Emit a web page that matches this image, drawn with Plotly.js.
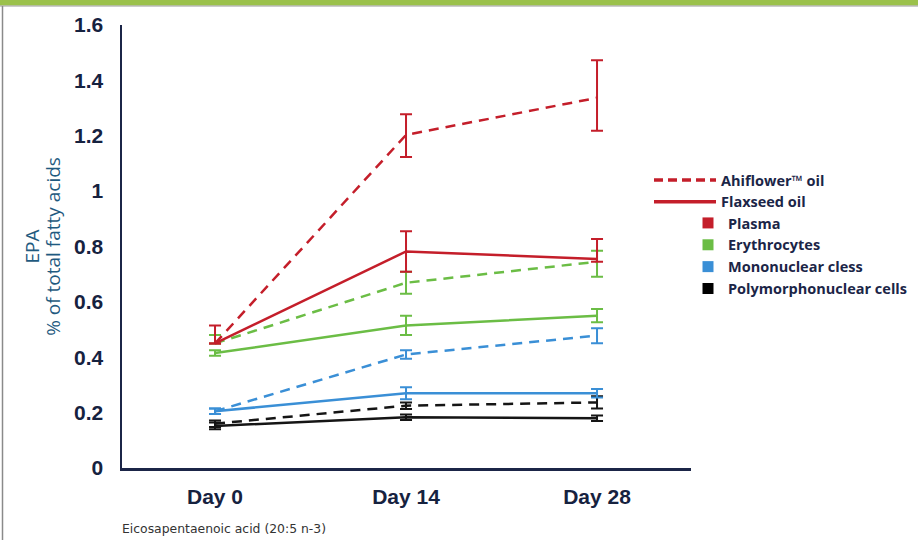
<!DOCTYPE html>
<html>
<head>
<meta charset="utf-8">
<script src="https://cdn.plot.ly/plotly-3.0.1.min.js"></script>
<style>html,body{margin:0;padding:0;background:#fff;}#chart{width:918px;height:540px;}</style>
</head>
<body>
<div id="chart"></div>
<script>
// ---- data ----
var days = ["Day 0", "Day 14", "Day 28"];
var yTickVals = [0, 0.2, 0.4, 0.6, 0.8, 1, 1.2, 1.4, 1.6];
var yTickText = ["0", "0.2", "0.4", "0.6", "0.8", "1", "1.2", "1.4", "1.6"];

var plasmaAhi = [0.45, 1.203, 1.337];
var plasmaAhiErrPlus = [0.065, 0.075, 0.136];
var plasmaAhiErrMinus = [0, 0.08, 0.119];
var plasmaFlax = [0.45, 0.782, 0.755];
var plasmaFlaxErrPlus = [0, 0.073, 0.072];
var plasmaFlaxErrMinus = [0, 0.073, 0.01];

var eryAhi = [0.45, 0.669, 0.745];
var eryAhiErrPlus = [0.03, 0.04, 0.04];
var eryAhiErrMinus = [0, 0.04, 0.054];
var eryFlax = [0.415, 0.515, 0.55];
var eryFlaxErrPlus = [0.01, 0.035, 0.024];
var eryFlaxErrMinus = [0.01, 0.035, 0.024];

var monoAhi = [0.205, 0.41, 0.478];
var monoAhiErr = [0.01, 0.015, 0.027];
var monoFlax = [0.205, 0.27, 0.27];
var monoFlaxErr = [0.01, 0.022, 0.015];

var polyAhi = [0.16, 0.225, 0.237];
var polyAhiErr = [0.012, 0.012, 0.022];
var polyFlax = [0.152, 0.183, 0.18];
var polyFlaxErr = [0.012, 0.01, 0.01];

var legendLines = ["Ahiflower\u2122 oil", "Flaxseed oil"];
var legendCells = ["Plasma", "Erythrocytes", "Mononuclear cless", "Polymorphonuclear cells"];

// ---- styles ----
var RED = "#c41e2a", GREEN = "#6bbd45", BLUE = "#3a8fd6", BLACK = "#151515";
var W = 918, H = 540, ML = 122, MR = 227, MT = 25, MB = 72;
var PW = W - ML - MR, PH = H - MT - MB;
function px(x) { return (x - ML) / PW; }
function py(y) { return (H - MB - y) / PH; }
var DASH = "10px,7px";

function series(y, color, dash, plus, minus) {
  return {
    type: "scatter", mode: "lines", x: days, y: y,
    line: {color: color, width: 2.5, dash: dash},
    error_y: {type: "data", symmetric: false, array: plus, arrayminus: minus,
              color: color, thickness: 2, width: 6},
    showlegend: false, hoverinfo: "x+y"
  };
}

var traces = [
  series(polyFlax, BLACK, "solid", polyFlaxErr, polyFlaxErr),
  series(polyAhi, BLACK, DASH, polyAhiErr, polyAhiErr),
  series(monoFlax, BLUE, "solid", monoFlaxErr, monoFlaxErr),
  series(monoAhi, BLUE, DASH, monoAhiErr, monoAhiErr),
  series(eryFlax, GREEN, "solid", eryFlaxErrPlus, eryFlaxErrMinus),
  series(eryAhi, GREEN, DASH, eryAhiErrPlus, eryAhiErrMinus),
  series(plasmaFlax, RED, "solid", plasmaFlaxErrPlus, plasmaFlaxErrMinus),
  series(plasmaAhi, RED, DASH, plasmaAhiErrPlus, plasmaAhiErrMinus)
];

// legend-only entries
var lineDashes = ["9px,5px", "solid"];
legendLines.forEach(function (name, i) {
  traces.push({type: "scatter", mode: "lines", x: [null], y: [null], name: name,
    line: {color: RED, width: 3.5, dash: lineDashes[i]}, legend: "legend", showlegend: true, hoverinfo: "skip"});
});
var cellColors = [RED, GREEN, BLUE, "#000000"];
legendCells.forEach(function (name, i) {
  traces.push({type: "scatter", mode: "markers", x: [null], y: [null], name: name,
    marker: {color: cellColors[i], symbol: "square", size: 11}, legend: "legend2", showlegend: true, hoverinfo: "skip"});
});

var legendFont = {family: "Open Sans, sans-serif", size: 14.5, color: "#1b2547", weight: "bold"};
var tickFont = {family: "Liberation Sans, Arial, sans-serif", size: 21, color: "#16223f", weight: "bold"};

var layout = {
  width: W, height: H,
  margin: {l: ML, r: MR, t: MT, b: MB, pad: 0, autoexpand: false},
  paper_bgcolor: "#ffffff", plot_bgcolor: "#ffffff",
  showlegend: true,
  xaxis: {
    type: "category", range: [-0.487, 2.492], showgrid: false, zeroline: false,
    showline: true, linecolor: "#1b2547", linewidth: 2.5, ticks: "",
    tickfont: tickFont, ticklabelstandoff: 8, fixedrange: true, automargin: false
  },
  yaxis: {
    range: [0, 1.6], showgrid: false, zeroline: false,
    showline: true, linecolor: "#1b2547", linewidth: 2.5, ticks: "",
    tickmode: "array", tickvals: yTickVals, ticktext: yTickText,
    tickfont: tickFont, ticklabelstandoff: 12, automargin: false,
    title: {text: "<span style=\"font-size:19px\">EPA</span><br><span style=\"font-size:19px\">% of total fatty acids</span>",
            standoff: 10,
            font: {family: "Open Sans, sans-serif", size: 16, color: "#1f5a80"}},
    fixedrange: true
  },
  legend: {
    xref: "paper", yref: "paper", x: px(649), y: py(164),
    xanchor: "left", yanchor: "top", bgcolor: "rgba(0,0,0,0)",
    itemwidth: 62, tracegroupgap: 0, font: legendFont, itemclick: false, itemdoubleclick: false
  },
  legend2: {
    xref: "paper", yref: "paper", x: px(688), y: py(207),
    xanchor: "left", yanchor: "top", bgcolor: "rgba(0,0,0,0)",
    itemwidth: 30, font: legendFont, itemclick: false, itemdoubleclick: false
  },
  annotations: [{
    xref: "paper", yref: "paper", x: px(120), y: py(528), xanchor: "left", yanchor: "middle",
    text: "Eicosapentaenoic acid (20:5 n-3)", showarrow: false,
    font: {family: "DejaVu Sans, sans-serif", size: 12.4, color: "#333333"}
  }],
  shapes: [
    {type: "rect", xref: "paper", yref: "paper", x0: px(0), x1: px(W), y0: py(0), y1: py(5.5),
     fillcolor: "#9bc14b", line: {width: 0}, layer: "above"},
    {type: "line", xref: "paper", yref: "paper", x0: px(0), x1: px(W), y0: py(6), y1: py(6),
     line: {color: "#9a9a9a", width: 1}},
    {type: "line", xref: "paper", yref: "paper", x0: px(2.5), x1: px(2.5), y0: py(6), y1: py(H),
     line: {color: "#8a8a8a", width: 1.5}}
  ]
};

Plotly.newPlot("chart", traces, layout, {displayModeBar: false, staticPlot: true});
</script>
</body>
</html>
